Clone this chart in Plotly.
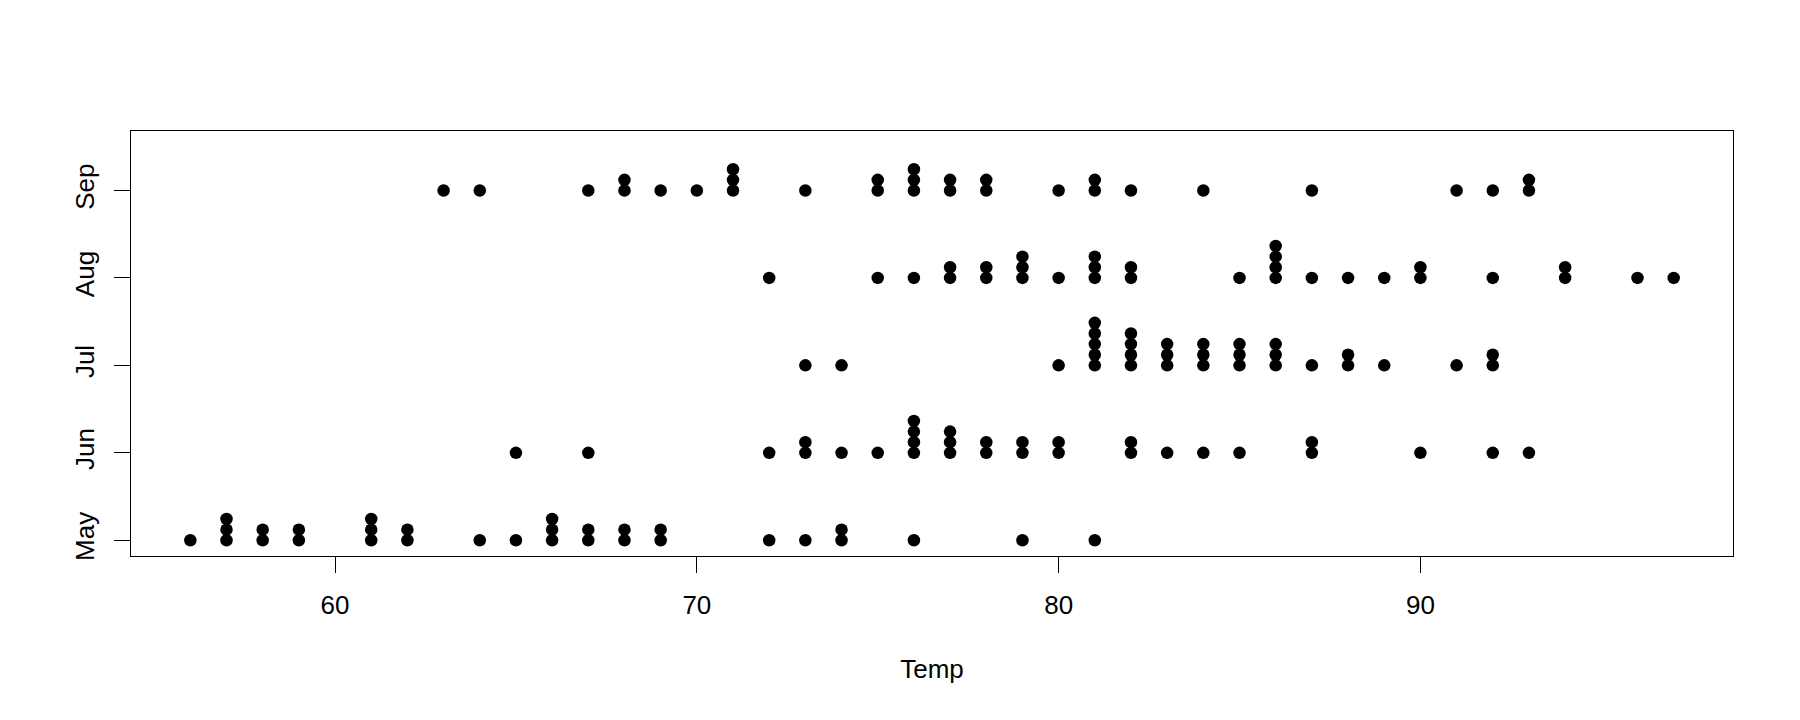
import plotly.graph_objects as go

months = ["May", "Jun", "Jul", "Aug", "Sep"]
temp_may = [67, 72, 74, 62, 56, 66, 65, 59, 61, 69, 74, 69, 66, 68, 58, 64, 66, 57, 68, 62, 59, 73, 61, 61, 57, 58, 57, 67, 81, 79, 76]
temp_jun = [78, 74, 67, 84, 85, 79, 82, 87, 90, 87, 93, 92, 82, 80, 79, 77, 72, 65, 73, 76, 77, 76, 76, 76, 75, 78, 73, 80, 77, 83]
temp_jul = [84, 85, 81, 84, 83, 83, 88, 92, 92, 89, 82, 73, 81, 91, 80, 81, 82, 84, 87, 85, 74, 81, 82, 86, 85, 82, 86, 88, 86, 83, 81]
temp_aug = [81, 81, 82, 86, 85, 87, 89, 90, 90, 92, 86, 86, 82, 80, 79, 77, 79, 76, 78, 78, 77, 72, 75, 79, 81, 86, 88, 97, 94, 96, 94]
temp_sep = [91, 92, 93, 93, 87, 84, 80, 78, 75, 73, 81, 76, 77, 71, 71, 78, 67, 76, 68, 82, 64, 71, 81, 69, 63, 70, 77, 75, 76, 68]
x_ticks = [60, 70, 80, 90]

groups = [temp_may, temp_jun, temp_jul, temp_aug, temp_sep]
STACK = 0.1215  # stacking offset (stripchart method="stack")

xs, ys = [], []
for gi, vals in enumerate(groups, start=1):
    counts = {}
    for v in sorted(vals):
        c = counts.get(v, 0)
        counts[v] = c + 1
        xs.append(v)
        ys.append(gi + c * STACK)

FONT = "Liberation Sans, Arial, Helvetica, sans-serif"

fig = go.Figure()
fig.add_trace(go.Scatter(
    x=xs, y=ys, mode="markers",
    marker=dict(color="black", size=12.5, symbol="circle", line=dict(width=0)),
    showlegend=False, hoverinfo="x",
))

fig.update_layout(
    width=1792, height=712,
    margin=dict(l=123, r=67, t=123, b=164),
    paper_bgcolor="white", plot_bgcolor="white",
    font=dict(family=FONT, size=26, color="black"),
    xaxis=dict(
        range=[54.36, 98.64], tickvals=x_ticks, ticktext=[str(t) for t in x_ticks],
        showgrid=False, zeroline=False, showline=True, linecolor="black", linewidth=1,
        mirror=True, ticks="outside", ticklen=16, tickcolor="black", tickwidth=1,
        ticklabelstandoff=10,
        title=dict(text="Temp", standoff=40, font=dict(size=26)),
        tickfont=dict(size=26),
    ),
    yaxis=dict(
        range=[0.82, 5.68], tickvals=[1, 2, 3, 4, 5], ticktext=months,
        showgrid=False, zeroline=False, showline=True, linecolor="black", linewidth=1,
        mirror=True, ticks="outside", ticklen=16, tickcolor="black", tickwidth=1,
        tickangle=-90, ticklabelstandoff=10,
        tickfont=dict(size=26),
    ),
)

fig.write_html("out.html")
